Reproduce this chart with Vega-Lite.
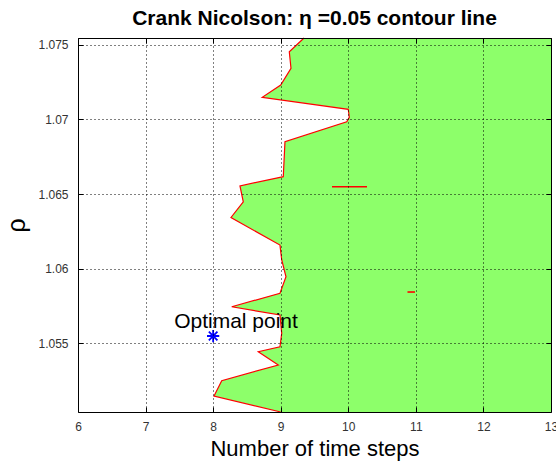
{
  "$schema": "https://vega.github.io/schema/vega-lite/v6.json",
  "width": 473,
  "height": 374,
  "autosize": "none",
  "padding": {"left": 78, "top": 38, "right": 5, "bottom": 51},
  "background": "white",
  "title": {
    "text": "Crank Nicolson: η =0.05 contour line",
    "font": "Liberation Sans",
    "fontSize": 21,
    "fontWeight": "bold",
    "color": "#000",
    "anchor": "middle",
    "offset": 7
  },
  "config": {
    "view": {"stroke": null},
    "axis": {
      "labelFont": "Liberation Sans",
      "titleFont": "Liberation Sans",
      "labelColor": "#333",
      "titleColor": "#000",
      "titleFontWeight": "normal",
      "domainColor": "#000",
      "tickColor": "#000",
      "labelOverlap": false,
      "labelFlush": false
    }
  },
  "datasets": {
    "contour": [
      {"steps": 9.345, "rho": 1.07545},
      {"steps": 9.127, "rho": 1.07453},
      {"steps": 9.152, "rho": 1.07342},
      {"steps": 9.0, "rho": 1.0723},
      {"steps": 8.727, "rho": 1.07148},
      {"steps": 10.0, "rho": 1.07067},
      {"steps": 10.015, "rho": 1.07014},
      {"steps": 9.977, "rho": 1.06984},
      {"steps": 9.063, "rho": 1.0685},
      {"steps": 9.038, "rho": 1.06616},
      {"steps": 8.989, "rho": 1.06612},
      {"steps": 8.397, "rho": 1.06554},
      {"steps": 8.446, "rho": 1.06448},
      {"steps": 8.264, "rho": 1.06343},
      {"steps": 8.989, "rho": 1.06158},
      {"steps": 9.015, "rho": 1.06058},
      {"steps": 9.078, "rho": 1.05946},
      {"steps": 8.989, "rho": 1.05835},
      {"steps": 8.275, "rho": 1.05745},
      {"steps": 8.989, "rho": 1.0569},
      {"steps": 9.015, "rho": 1.05567},
      {"steps": 8.989, "rho": 1.05477},
      {"steps": 8.668, "rho": 1.05444},
      {"steps": 8.964, "rho": 1.05355},
      {"steps": 8.127, "rho": 1.0525},
      {"steps": 8.013, "rho": 1.05147},
      {"steps": 9.0, "rho": 1.0504}
    ],
    "islands": [
      {"from": 9.759, "to": 10.277, "rho": 1.06549},
      {"from": 10.876, "to": 10.987, "rho": 1.058436}
    ],
    "optimum": [
      {"steps": 8, "rho": 1.05549, "label": "Optimal point"}
    ]
  },
  "layer": [
    {
      "data": {"name": "contour"},
      "mark": {"type": "area", "orient": "horizontal", "color": "#8dff6a", "opacity": 1},
      "encoding": {
        "y": {
          "field": "rho",
          "type": "quantitative",
          "scale": {"domain": [1.0504, 1.07545], "nice": false, "zero": false},
          "axis": {
            "orient": "left",
            "values": [1.055, 1.06, 1.065, 1.07, 1.075],
            "format": "~g",
            "grid": true,
            "gridColor": "#000",
            "gridDash": [1, 3],
            "gridOpacity": 1,
            "tickSize": -5,
            "labelFontSize": 12,
            "labelPadding": 15,
            "title": "ρ",
            "titleFontSize": 25,
            "titlePadding": 8,
            "zindex": 1
          }
        },
        "x": {
          "field": "steps",
          "type": "quantitative",
          "scale": {"domain": [6, 13], "nice": false, "zero": false},
          "axis": {
            "orient": "bottom",
            "values": [6, 7, 8, 9, 10, 11, 12, 13],
            "format": "d",
            "grid": true,
            "gridColor": "#000",
            "gridDash": [1, 3],
            "gridOpacity": 1,
            "tickSize": -5,
            "labelFontSize": 12,
            "labelPadding": 14,
            "title": "Number of time steps",
            "titleFontSize": 22,
            "titlePadding": 6,
            "zindex": 1
          }
        },
        "x2": {"datum": 13}
      }
    },
    {
      "data": {"name": "contour"},
      "mark": {"type": "line", "color": "#ff0000", "strokeWidth": 1.2},
      "encoding": {
        "x": {
          "field": "steps",
          "type": "quantitative",
          "axis": {
            "orient": "top",
            "values": [6, 7, 8, 9, 10, 11, 12, 13],
            "labels": false,
            "grid": false,
            "tickSize": -5,
            "title": null,
            "zindex": 1
          }
        },
        "y": {
          "field": "rho",
          "type": "quantitative",
          "axis": {
            "orient": "right",
            "values": [1.055, 1.06, 1.065, 1.07, 1.075],
            "labels": false,
            "grid": false,
            "tickSize": -5,
            "title": null,
            "zindex": 1
          }
        },
        "order": {"field": "rho", "type": "quantitative", "sort": "descending"}
      }
    },
    {
      "data": {"name": "islands"},
      "mark": {"type": "rule", "color": "#ff0000", "strokeWidth": 1.6},
      "encoding": {
        "x": {"field": "from", "type": "quantitative", "axis": null},
        "x2": {"field": "to"},
        "y": {"field": "rho", "type": "quantitative", "axis": null}
      }
    },
    {
      "data": {"name": "optimum"},
      "mark": {
        "type": "point",
        "shape": "M0,-1V1M-1,0H1M-0.7,-0.7L0.7,0.7M-0.7,0.7L0.7,-0.7",
        "filled": false,
        "color": "#0000ff",
        "strokeWidth": 1.8,
        "size": 150,
        "opacity": 1
      },
      "encoding": {
        "x": {"field": "steps", "type": "quantitative", "axis": null},
        "y": {"field": "rho", "type": "quantitative", "axis": null}
      }
    },
    {
      "data": {"name": "optimum"},
      "mark": {
        "type": "text",
        "align": "left",
        "baseline": "alphabetic",
        "dx": -39,
        "dy": -8,
        "font": "Liberation Sans",
        "fontSize": 21,
        "color": "#000"
      },
      "encoding": {
        "x": {"field": "steps", "type": "quantitative", "axis": null},
        "y": {"field": "rho", "type": "quantitative", "axis": null},
        "text": {"field": "label"}
      }
    }
  ],
  "resolve": {"axis": {"x": "independent", "y": "independent"}}
}
